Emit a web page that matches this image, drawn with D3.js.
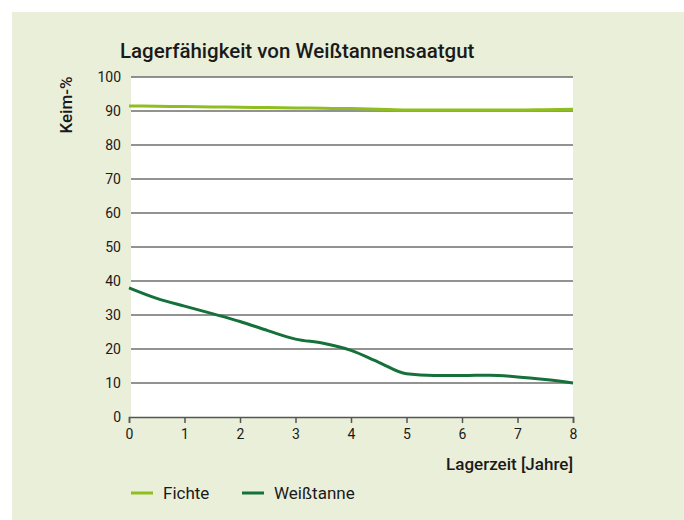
<!DOCTYPE html>
<html>
<head>
<meta charset="utf-8">
<script src="https://cdn.jsdelivr.net/npm/d3@7"></script>
<style>
  body { margin: 0; background: #ffffff; }
  text { font-family: Roboto, "Noto Sans", sans-serif; fill: #1a1a1a; }
</style>
</head>
<body>
<div class="chart"></div>
<script>
// chart data
const years = [0, 0.5, 1, 1.5, 2, 2.5, 3, 3.5, 4, 4.5, 5, 5.5, 6, 6.5, 7, 7.5, 8];
const fichte = [91.5, 91.4, 91.3, 91.2, 91.1, 91.0, 90.9, 90.8, 90.7, 90.5, 90.3, 90.3, 90.3, 90.3, 90.3, 90.4, 90.5];
const weisstanne = [38, 34.9, 32.6, 30.4, 28.1, 25.4, 22.9, 21.7, 19.6, 16.1, 12.7, 12.2, 12.2, 12.3, 11.8, 11.0, 10.0];
const yTicks = [0, 10, 20, 30, 40, 50, 60, 70, 80, 90, 100];
const xTicks = [0, 1, 2, 3, 4, 5, 6, 7, 8];
const seriesNames = ['Fichte', 'Weißtanne'];
const seriesColors = ['#8fbf1f', '#15703a'];

const width = 684, height = 520;
const margin = { top: 77, right: 111, bottom: 103, left: 129 };

const svg = d3.select('.chart')
              .append('svg')
              .attr('width', width)
              .attr('height', height);

//background panel
svg.append('rect')
   .attr('x', 12).attr('y', 12)
   .attr('width', width - 12).attr('height', height - 12)
   .attr('fill', '#eaefd9');

const xScale = d3.scaleLinear()
                 .domain([0, 8])
                 .range([margin.left, width - margin.right]);

const yScale = d3.scaleLinear()
                 .domain([0, 100])
                 .range([height - margin.bottom, margin.top]);

//white plot area
svg.append('rect')
   .attr('x', xScale(0) + 2)
   .attr('y', yScale(100))
   .attr('width', xScale(8) - xScale(0) - 2)
   .attr('height', yScale(0) - yScale(100))
   .attr('fill', '#ffffff');

//title
svg.append('text')
   .attr('x', 120).attr('y', 58)
   .style('font-size', '20.5px')
   .style('font-weight', '500')
   .text('Lagerfähigkeit von Weißtannensaatgut');

//gridlines
svg.append('g')
   .selectAll('line')
   .data(yTicks.filter(d => d > 0))
   .enter()
   .append('line')
   .attr('x1', xScale(0) + 2)
   .attr('x2', xScale(8))
   .attr('y1', d => yScale(d))
   .attr('y2', d => yScale(d))
   .attr('stroke', '#6e6e6e')
   .attr('stroke-width', 1.5);

//y tick labels
svg.append('g')
   .selectAll('text')
   .data(yTicks)
   .enter()
   .append('text')
   .attr('x', xScale(0) - 8)
   .attr('y', d => yScale(d) + 5)
   .attr('text-anchor', 'end')
   .style('font-size', '14px')
   .text(d => d);

//x axis
const xAxis = d3.axisBottom(xScale)
                .tickValues(xTicks)
                .tickSize(6)
                .tickFormat(d3.format('d'));

const gx = svg.append('g')
              .attr('transform', `translate(0, ${yScale(0)})`)
              .call(xAxis);
gx.select('.domain').attr('stroke', '#555555').attr('stroke-width', 1.5);
gx.selectAll('.tick line').attr('stroke', '#555555').attr('stroke-width', 1.5);
gx.selectAll('.tick text')
  .attr('y', 12)
  .style('font-size', '14px')
  .style('font-family', 'Roboto, "Noto Sans", sans-serif')
  .attr('fill', '#1a1a1a');

//axis titles
svg.append('text')
   .attr('transform', `translate(72, 105) rotate(-90)`)
   .attr('text-anchor', 'middle')
   .style('font-size', '17px')
   .style('font-weight', '500')
   .text('Keim-%');

svg.append('text')
   .attr('x', xScale(8))
   .attr('y', 470)
   .attr('text-anchor', 'end')
   .style('font-size', '17px')
   .style('font-weight', '500')
   .text('Lagerzeit [Jahre]');

//lines
const line = d3.line()
               .x(d => xScale(d[0]))
               .y(d => yScale(d[1]))
               .curve(d3.curveMonotoneX);

[fichte, weisstanne].forEach((values, i) => {
    svg.append('path')
       .datum(years.map((y, j) => [y, values[j]]))
       .attr('d', line)
       .attr('fill', 'none')
       .attr('stroke', seriesColors[i])
       .attr('stroke-width', 3);
});

//legend
const legendX = [131, 242];
const legend = svg.selectAll('.legend')
                  .data(seriesNames)
                  .enter()
                  .append('g')
                  .attr('class', 'legend')
                  .attr('transform', (d, i) => `translate(${legendX[i]}, 493)`);

legend.append('line')
      .attr('x1', 0).attr('x2', 22)
      .attr('stroke', (d, i) => seriesColors[i])
      .attr('stroke-width', 3);

legend.append('text')
      .attr('x', 32).attr('y', 6)
      .style('font-size', '17px')
      .text(d => d);
</script>
</body>
</html>
